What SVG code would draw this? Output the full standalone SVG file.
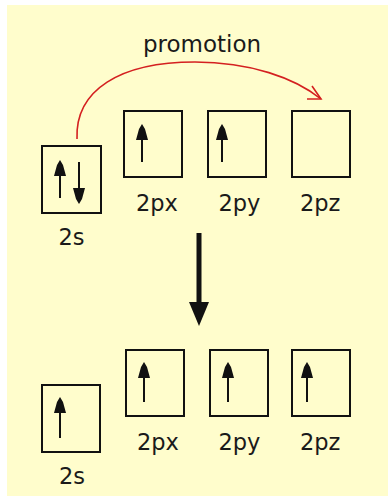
<svg xmlns="http://www.w3.org/2000/svg" width="388" height="496" viewBox="0 0 388 496">
<defs>
<style>
.bg{fill:#FFFDCC}
.box{fill:none;stroke:#111;stroke-width:2}
.spin{stroke:#111;stroke-width:2;fill:none}
.head{fill:#111}
.lbl{font-family:"DejaVu Sans","Verdana",sans-serif;font-size:22.5px;fill:#1a1a1a}
.promo{fill:none;stroke:#D42020;stroke-width:1.6}
</style>
<path id="up" d="M0,0 L-3,5 L-6,16 L6,16 L3,5 Z" class="head"/>
<path id="down" d="M0,0 L-3,-5 L-6,-16 L6,-16 L3,-5 Z" class="head"/>
</defs>
<rect x="0" y="0" width="388" height="496" fill="#ffffff"/>
<rect class="bg" x="7" y="5" width="381" height="491"/>

<g id="connectors">
  <path class="promo" d="M77,139 C75,90 120,62 195,62 C250,62 295,78 321,99"/>
  <path class="promo" d="M307,99 L321,99 L312,86"/>
  <line x1="199" y1="233" x2="199" y2="305" stroke="#111" stroke-width="5"/>
  <path d="M199,326 L189,302 L209,302 Z" fill="#111"/>
</g>

<g id="promotion-label">
  <text class="lbl" x="143" y="52" style="font-size:23px">promotion</text>
</g>

<g id="top-2s">
  <rect class="box" x="42" y="146" width="59" height="67"/>
  <line class="spin" x1="60" y1="198" x2="60" y2="170"/>
  <use href="#up" x="60" y="160"/>
  <line class="spin" x1="79" y1="162" x2="79" y2="193"/>
  <use href="#down" x="79" y="204"/>
  <text class="lbl" x="58.5" y="245">2s</text>
</g>
<g id="top-2px">
  <rect class="box" x="124" y="111" width="58" height="66"/>
  <line class="spin" x1="142" y1="162" x2="142" y2="134"/>
  <use href="#up" x="142" y="124"/>
  <text class="lbl" x="136" y="211">2px</text>
</g>
<g id="top-2py">
  <rect class="box" x="208" y="111" width="58" height="66"/>
  <line class="spin" x1="222" y1="162" x2="222" y2="134"/>
  <use href="#up" x="222" y="124"/>
  <text class="lbl" x="218.5" y="211">2py</text>
</g>
<g id="top-2pz">
  <rect class="box" x="292" y="111" width="58" height="66"/>
  <text class="lbl" x="300" y="211">2pz</text>
</g>

<g id="bottom-2s">
  <rect class="box" x="42" y="385" width="58" height="67"/>
  <line class="spin" x1="60" y1="438" x2="60" y2="408"/>
  <use href="#up" x="60" y="397"/>
  <text class="lbl" x="59" y="484">2s</text>
</g>
<g id="bottom-2px">
  <rect class="box" x="126" y="350" width="58" height="66"/>
  <line class="spin" x1="144" y1="402" x2="144" y2="373"/>
  <use href="#up" x="144" y="362"/>
  <text class="lbl" x="137" y="450">2px</text>
</g>
<g id="bottom-2py">
  <rect class="box" x="210" y="350" width="58" height="66"/>
  <line class="spin" x1="228" y1="402" x2="228" y2="373"/>
  <use href="#up" x="228" y="362"/>
  <text class="lbl" x="218.5" y="450">2py</text>
</g>
<g id="bottom-2pz">
  <rect class="box" x="292" y="350" width="58" height="66"/>
  <line class="spin" x1="307" y1="402" x2="307" y2="373"/>
  <use href="#up" x="307" y="362"/>
  <text class="lbl" x="300" y="450">2pz</text>
</g>
</svg>
